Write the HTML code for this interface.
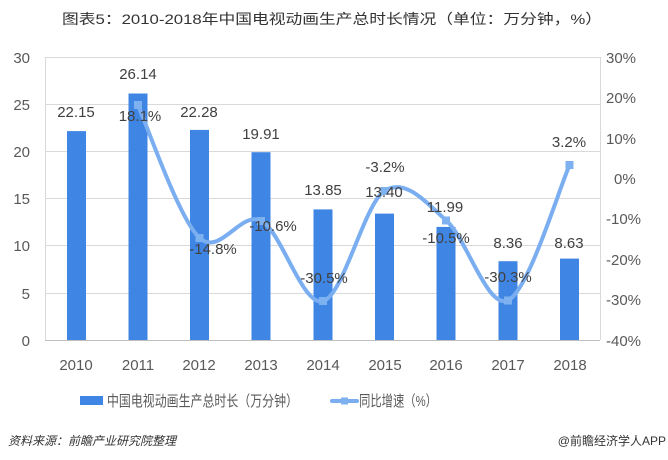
<!DOCTYPE html>
<html><head><meta charset="utf-8"><style>
html,body{margin:0;padding:0;background:#fff;}
svg{display:block;font-family:"Liberation Sans","Noto Sans CJK SC",sans-serif;}
</style></head><body>
<svg width="668" height="460" viewBox="0 0 668 460" xmlns="http://www.w3.org/2000/svg">
<text x="62" y="24" font-size="14" fill="#333" textLength="540" lengthAdjust="spacingAndGlyphs">图表5：2010-2018年中国电视动画生产总时长情况（单位：万分钟，%）</text>
<g stroke="#d9d9d9" stroke-width="1">
<line x1="45" y1="57.5" x2="600" y2="57.5"/>
<line x1="45" y1="104.5" x2="600" y2="104.5"/>
<line x1="45" y1="151.5" x2="600" y2="151.5"/>
<line x1="45" y1="198.5" x2="600" y2="198.5"/>
<line x1="45" y1="245.5" x2="600" y2="245.5"/>
<line x1="45" y1="293.5" x2="600" y2="293.5"/>
<line x1="45.5" y1="57" x2="45.5" y2="340"/>
<line x1="600.5" y1="57" x2="600.5" y2="340"/>
</g>
<line x1="45" y1="340.5" x2="600" y2="340.5" stroke="#bfbfbf"/>
<g font-size="15" fill="#595959" text-anchor="end">
<text x="30" y="63">30</text><text x="30" y="110">25</text><text x="30" y="157">20</text>
<text x="30" y="204">15</text><text x="30" y="251">10</text><text x="30" y="299">5</text><text x="30" y="346">0</text>
</g>
<g font-size="15" fill="#595959">
<text x="606" y="63">30%</text><text x="606" y="103">20%</text><text x="606" y="144">10%</text>
<text x="614" y="184">0%</text><text x="606" y="224">-10%</text><text x="606" y="265">-20%</text>
<text x="606" y="305">-30%</text><text x="606" y="346">-40%</text>
</g>
<g font-size="15" fill="#595959" text-anchor="middle">
<text x="76" y="370">2010</text><text x="138" y="370">2011</text><text x="199" y="370">2012</text>
<text x="261" y="370">2013</text><text x="323" y="370">2014</text><text x="385" y="370">2015</text>
<text x="446" y="370">2016</text><text x="508" y="370">2017</text><text x="570" y="370">2018</text>
</g>
<g fill="#3f85e3">
<rect x="67" y="131.1" width="19" height="208.9"/>
<rect x="128.5" y="93.5" width="19" height="246.5"/>
<rect x="190" y="129.9" width="19" height="210.1"/>
<rect x="251.5" y="152.2" width="19" height="187.8"/>
<rect x="313.5" y="209.4" width="19" height="130.6"/>
<rect x="375" y="213.6" width="19" height="126.4"/>
<rect x="436.5" y="226.9" width="19" height="113.1"/>
<rect x="498.5" y="261.2" width="19" height="78.8"/>
<rect x="560" y="258.6" width="19" height="81.4"/>
</g>
<path d="M137.7,104.9 C148,127.1 178.8,218.5 199.4,237.8 C220,257.1 240.5,210.2 261.1,220.8 C281.7,231.4 302.2,306.2 322.8,301.2 C343.4,296.2 363.9,204.4 384.5,190.9 C405.1,177.4 425.6,202.1 446.2,220.4 C466.8,238.7 487.3,309.6 507.9,300.4 C528.5,291.2 559.3,187.7 569.6,165.1" fill="none" stroke="#7aaef0" stroke-width="4" stroke-linecap="round"/>
<g fill="#7eb1ef">
<rect x="134" y="101" width="8" height="8"/><rect x="195.5" y="234" width="8" height="8"/>
<rect x="257" y="217" width="8" height="8"/><rect x="319" y="297" width="8" height="8"/>
<rect x="380.5" y="187" width="8" height="8"/><rect x="442" y="216.5" width="8" height="8"/>
<rect x="504" y="296.5" width="8" height="8"/><rect x="565.5" y="161" width="8" height="8"/>
</g>
<g font-size="15" fill="#404040" text-anchor="middle">
<text x="76" y="117">22.15</text><text x="138" y="79">26.14</text><text x="140" y="121">18.1%</text>
<text x="199" y="117">22.28</text><text x="261" y="139">19.91</text><text x="213" y="254">-14.8%</text>
<text x="273" y="231">-10.6%</text><text x="323" y="195">13.85</text><text x="324" y="283">-30.5%</text>
<text x="385" y="172">-3.2%</text><text x="384" y="197">13.40</text><text x="445" y="212">11.99</text>
<text x="446" y="243">-10.5%</text><text x="508" y="248">8.36</text><text x="508" y="282">-30.3%</text>
<text x="569" y="248">8.63</text><text x="569" y="147">3.2%</text>
</g>
<rect x="80" y="396" width="23" height="9" fill="#3f85e3"/>
<text x="107" y="406" font-size="15" fill="#595959" textLength="191" lengthAdjust="spacingAndGlyphs">中国电视动画生产总时长（万分钟）</text>
<line x1="332" y1="401" x2="357" y2="401" stroke="#7aaef0" stroke-width="4" stroke-linecap="round"/>
<rect x="341" y="397.5" width="7" height="7" fill="#7eb1ef"/>
<text x="359" y="406" font-size="15" fill="#595959" textLength="78" lengthAdjust="spacingAndGlyphs">同比增速（%）</text>
<text x="8" y="445" font-size="12" font-style="italic" fill="#333">资料来源：前瞻产业研究院整理</text>
<text x="666" y="445" font-size="12" fill="#333" text-anchor="end">@前瞻经济学人APP</text>
</svg>
</body></html>
